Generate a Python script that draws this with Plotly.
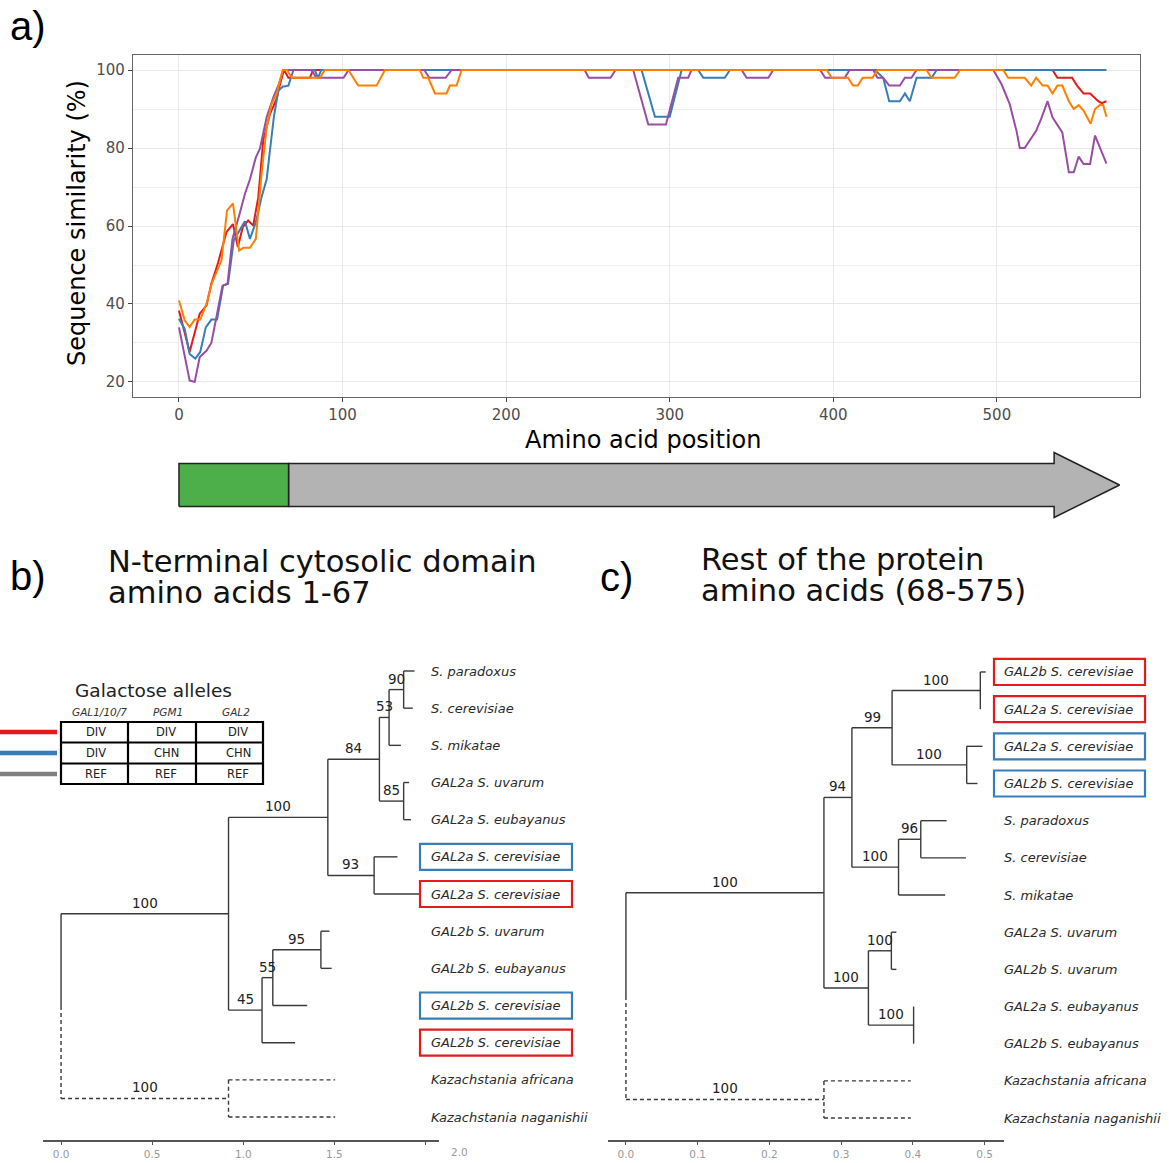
import plotly.graph_objects as go

W, H = 1169, 1163
def px(x): return x / W
def py(y): return 1 - y / H

FONT = "DejaVu Sans"

# ---------------- panel a data ----------------
red_pos = [0,6.5,12.7,16.8,19.8,24,29,33,36,39,42.3,45.4,48.5,51.5,55.6,59.7,61.8,64.2,66.9,80,82,534,537,546,549,553,557,562,564,567]
red_sim = [38.3,27.7,37.5,39.6,45.2,50.7,58.4,60.5,54.6,59.7,61.4,60.1,67.4,81.9,88.7,92.6,96.4,100,98,98,100,100,98,98,96,94,94,92,91.5,92]

blue_pos = [0,3.5,6.5,10,13,16.4,19.8,23.3,27,30,33.5,36.8,40.3,43.4,47,50.5,53.6,55.6,58,60.7,63.4,66.9,70,83,85,87,282.8,291,300,307.3,317.4,320.5,333.7,336.8,425.4,430.5,434.2,440.7,443.8,446.8,450.9,460.1,463.2,567]
blue_sim = [36.2,33.6,27.2,26,27.7,34,36,36,44.7,45.2,56.3,58.8,61.2,56.7,61,67.4,72,79.3,87.9,94.7,95.7,96,100,100,98,100,100,88,88,100,100,98,98,100,100,98,92,92,94,92,98,98,100,100]

orange_pos = [0,3.5,6.5,9.6,13,16.8,20,23.3,26,29.4,33,36.8,39.3,43.4,47,50.5,53.6,56.6,59.7,63.4,66,69,86.2,89.2,103.5,109.6,120.8,125.9,147.3,149.3,152.4,156.5,163.6,165.6,169.7,172.8,396,399,409,412,415,418,424,427,457,460,474.3,477.4,503.9,506.9,517,521,524,528,531,534,537,540,544,547,550,553,557.3,560,563,565,567]
orange_sim = [40.9,35.8,34.1,36,36,40,45.2,48.6,51.2,64,65.8,53.7,54.4,54.4,56.7,73.4,85.3,91.3,93.9,100,100,98,98,100,100,96,96,100,100,98,98,94,94,96,96,100,100,98,98,96,96,98,98,100,100,98,98,100,100,98,98,96,98,96,96,94,96,96,92,90,91,89.6,86.2,90,91,91,88]

purple_pos = [0,3.5,6.5,9.6,12.7,16.8,19.8,23.3,26.6,29.7,32.7,36.8,40.3,43.4,47,49.5,53.6,57.7,61.1,63.8,81,84,100.6,103.7,150,153,163,166.7,248,250.5,263.8,266.9,277.7,286.9,297.7,305.2,311.3,313.3,344,347,360.3,363.3,392,395,407,410,424.4,427,430.5,434.2,440.7,443.8,447.8,450.9,497.8,502.8,507.8,512,514,517,524,527,531,534,540,544,547,550,553,557,560,567]
purple_sim = [34,26.4,20.4,20,26.4,28,30,37.5,44.7,45.2,56.7,62.7,68.2,72,77.6,79.8,87.9,93,96.4,100,100,98,98,100,100,98,98,100,100,98,98,100,100,86,86,98,98,100,100,98,98,100,100,98,98,100,100,98,98,96,96,98,98,100,100,96.4,91.3,84.4,80,80,84.4,87.4,92,87.9,84,73.8,73.8,77.8,75.9,75.9,83.2,76]

series = [
    ("red", red_pos, red_sim, "#E41A1C"),
    ("blue", blue_pos, blue_sim, "#377EB8"),
    ("purple", purple_pos, purple_sim, "#984EA3"),
    ("orange", orange_pos, orange_sim, "#FF7F00"),
]

# protein domains (amino-acid boundaries)
domain_bounds = [0, 67, 575]
arrow_head_start = 535

# ---------------- tree data ----------------
tree_b_leaves = ["S. paradoxus", "S. cerevisiae", "S. mikatae", "GAL2a S. uvarum",
                 "GAL2a S. eubayanus", "GAL2a S. cerevisiae", "GAL2a S. cerevisiae",
                 "GAL2b S. uvarum", "GAL2b S. eubayanus", "GAL2b S. cerevisiae",
                 "GAL2b S. cerevisiae", "Kazachstania africana", "Kazachstania naganishii"]
# (node, parent, branch end x, bootstrap)
tree_b_nodes = [
    ("A", "root", 0.919, 100), ("B", "A", 1.464, 100), ("C", "B", 1.747, 84),
    ("D", "C", 1.80, 53), ("E", "D", 1.88, 90), ("L0", "E", 1.94, None),
    ("L1", "E", 1.93, None), ("L2", "D", 1.865, None), ("F", "C", 1.88, 85),
    ("L3", "F", 1.91, None), ("L4", "F", 1.92, None), ("G", "B", 1.718, 93),
    ("L5", "G", 1.846, None), ("L6", "G", 1.97, None), ("H", "A", 1.103, 45),
    ("I", "H", 1.162, 55), ("J", "I", 1.426, 95), ("L7", "J", 1.473, None),
    ("L8", "J", 1.485, None), ("L9", "I", 1.351, None), ("L10", "H", 1.284, None),
    ("K", "root", 0.919, 100), ("L11", "K", 1.504, None), ("L12", "K", 1.504, None),
]
tree_b_boxes = {5: "#377EB8", 6: "#E41A1C", 9: "#377EB8", 10: "#E41A1C"}

tree_c_leaves = ["GAL2b S. cerevisiae", "GAL2a S. cerevisiae", "GAL2a S. cerevisiae",
                 "GAL2b S. cerevisiae", "S. paradoxus", "S. cerevisiae", "S. mikatae",
                 "GAL2a S. uvarum", "GAL2b S. uvarum", "GAL2a S. eubayanus",
                 "GAL2b S. eubayanus", "Kazachstania africana", "Kazachstania naganishii"]
tree_c_nodes = [
    ("A", "root", 0.276, 100), ("B", "A", 0.315, 94), ("C", "B", 0.371, 99),
    ("D", "C", 0.494, 100), ("L0", "D", 0.5015, None), ("L1", "D", 0.494, None),
    ("E", "C", 0.475, 100), ("L2", "E", 0.497, None), ("L3", "E", 0.490, None),
    ("F", "B", 0.380, 100), ("G", "F", 0.411, 96), ("L4", "G", 0.447, None),
    ("L5", "G", 0.474, None), ("L6", "F", 0.445, None), ("H", "A", 0.338, 100),
    ("I", "H", 0.370, 100), ("L7", "I", 0.377, None), ("L8", "I", 0.377, None),
    ("J", "H", 0.401, 100), ("L9", "J", 0.401, None), ("L10", "J", 0.401, None),
    ("K", "root", 0.276, 100), ("L11", "K", 0.397, None), ("L12", "K", 0.397, None),
]
tree_c_boxes = {0: "#E41A1C", 1: "#E41A1C", 2: "#377EB8", 3: "#377EB8"}
outgroup_nodes = {"K", "L11", "L12"}

# legend table
allele_genes = ["GAL1/10/7", "PGM1", "GAL2"]
allele_rows = [["DIV", "DIV", "DIV"], ["DIV", "CHN", "CHN"], ["REF", "REF", "REF"]]
allele_colors = ["#E41A1C", "#377EB8", "#808080"]

fig = go.Figure()

# ---------------- panel a ----------------
for name, xs, ys, col in series:
    fig.add_trace(go.Scatter(x=xs, y=ys, mode="lines", name=name,
                             line=dict(color=col, width=2), xaxis="x", yaxis="y",
                             showlegend=False, hoverinfo="skip"))

# protein arrow
g0, g1, g2 = domain_bounds
bh, hh = 21.5, 32.5
fig.add_trace(go.Scatter(x=[g1, arrow_head_start, arrow_head_start, g2, arrow_head_start, arrow_head_start, g1, g1],
                         y=[-bh, -bh, -hh, 0, hh, bh, bh, -bh], fill="toself",
                         fillcolor="#B3B3B3", line=dict(color="#222", width=1.5),
                         mode="lines", xaxis="x2", yaxis="y2", showlegend=False, hoverinfo="skip"))
fig.add_trace(go.Scatter(x=[g0, g1, g1, g0, g0], y=[-bh, -bh, bh, bh, -bh], fill="toself",
                         fillcolor="#4DAF4A", line=dict(color="#222", width=1.5),
                         mode="lines", xaxis="x2", yaxis="y2", showlegend=False, hoverinfo="skip"))

annotations = []
shapes = []

def ann(text, x, y, size, xanchor="left", yanchor="middle", color="#111", family=FONT, **kw):
    d = dict(text=text, x=px(x), y=py(y), xref="paper", yref="paper", showarrow=False,
             xanchor=xanchor, yanchor=yanchor, font=dict(size=size, color=color, family=family))
    d.update(kw)
    annotations.append(d)

# ---------------- trees ----------------
def draw_tree(nodes, leaves, xa, ya, boxes, label_x, box_x0, box_x1):
    xpos = {"root": 0.0}
    kids = {}
    for n, p, x, b in nodes:
        xpos[n] = x
        kids.setdefault(p, []).append(n)
    ys = {}
    def y_of(n):
        if n.startswith("L"):
            ys[n] = int(n[1:])
        else:
            v = [y_of(c) for c in kids[n]]
            ys[n] = (min(v) + max(v)) / 2
        return ys[n]
    y_of("root")
    sx, sy, dx, dy = [], [], [], []
    for n, p, x, b in nodes:
        tx, ty = (dx, dy) if n in outgroup_nodes else (sx, sy)
        tx += [xpos[p], x, None]
        ty += [ys[n], ys[n], None]
    for p, cs in kids.items():
        if p == "root":
            yv = [ys[c] for c in cs]
            mid = (min(yv) + max(yv)) / 2
            for c in cs:
                tx, ty = (dx, dy) if c in outgroup_nodes else (sx, sy)
                tx += [0, 0, None]
                ty += [mid, ys[c], None]
        else:
            yv = [ys[c] for c in cs]
            tx, ty = (dx, dy) if p in outgroup_nodes else (sx, sy)
            tx += [xpos[p], xpos[p], None]
            ty += [min(yv), max(yv), None]
    fig.add_trace(go.Scatter(x=sx, y=sy, mode="lines", line=dict(color="#3a3a3a", width=1.4),
                             xaxis=xa, yaxis=ya, showlegend=False, hoverinfo="skip"))
    fig.add_trace(go.Scatter(x=dx, y=dy, mode="lines",
                             line=dict(color="#3a3a3a", width=1.4, dash="4px,3px"),
                             xaxis=xa, yaxis=ya, showlegend=False, hoverinfo="skip"))
    for n, p, x, b in nodes:
        if b is not None:
            annotations.append(dict(text=str(b), x=(xpos[p] + x) / 2, y=ys[n], xref=xa, yref=ya,
                                    showarrow=False, yshift=11, xanchor="center", yanchor="middle",
                                    font=dict(size=13.5, color="#222", family=FONT)))
    for i, name in enumerate(leaves):
        annotations.append(dict(text="<i>" + name + "</i>", x=px(label_x), y=i, xref="paper", yref=ya,
                                showarrow=False, xanchor="left", yanchor="middle",
                                font=dict(size=13, color="#2a2a2a", family=FONT)))
    for i, col in boxes.items():
        shapes.append(dict(type="rect", xref="paper", yref=ya, x0=px(box_x0), x1=px(box_x1),
                           y0=i - 0.35, y1=i + 0.35, line=dict(color=col, width=2.2)))

draw_tree(tree_b_nodes, tree_b_leaves, "x3", "y3", tree_b_boxes, 429, 420, 572)
draw_tree(tree_c_nodes, tree_c_leaves, "x4", "y4", tree_c_boxes, 1002, 994, 1145)

# ---------------- text ----------------
ann("a)", 8, 26, 40, family="Liberation Sans", color="#000")
ann("b)", 8, 576, 40, family="Liberation Sans", color="#000")
ann("c)", 598, 577, 40, family="Liberation Sans", color="#000")
ann("N-terminal cytosolic domain", 106, 561, 30.5)
ann("amino acids 1-67", 106, 592, 30.5)
ann("Rest of the protein", 699, 559, 30.5)
ann("amino acids (68-575)", 699, 590, 30.5)
ann("Amino acid position", 643, 440, 24, xanchor="center", color="#000")
ann("Sequence similarity (%)", 77, 223, 24, xanchor="center", color="#000", textangle=-90)
ann("2.0", 459, 1152, 10.5, xanchor="center", color="#999")

# legend table
ann("Galactose alleles", 153, 690, 18.5, xanchor="center", color="#222")
col_centers = [96, 166, 238]
row_centers = [732, 753, 774]
for g, cx in zip(allele_genes, [99, 168, 236]):
    ann("<i>" + g + "</i>", cx, 712, 10.5, xanchor="center", color="#333")
for r, row in enumerate(allele_rows):
    for c, val in enumerate(row):
        ann(val, col_centers[c], row_centers[r], 11.5, xanchor="center", color="#222")
    shapes.append(dict(type="line", xref="paper", yref="paper", x0=px(0), x1=px(57),
                       y0=py(row_centers[r]), y1=py(row_centers[r]),
                       line=dict(color=allele_colors[r], width=4.5)))
shapes.append(dict(type="rect", xref="paper", yref="paper", x0=px(61), x1=px(263),
                   y0=py(784), y1=py(722), line=dict(color="#000", width=2.2)))
for vx in [128, 196]:
    shapes.append(dict(type="line", xref="paper", yref="paper", x0=px(vx), x1=px(vx),
                       y0=py(784), y1=py(722), line=dict(color="#000", width=2.2)))
for hy in [742.5, 763.5]:
    shapes.append(dict(type="line", xref="paper", yref="paper", x0=px(61), x1=px(263),
                       y0=py(hy), y1=py(hy), line=dict(color="#000", width=2.2)))

tree_xaxis = dict(showline=True, linecolor="#555", linewidth=2, ticks="outside", ticklen=3,
                  tickcolor="#555", showgrid=False, zeroline=False,
                  tickfont=dict(size=10.5, color="#999", family=FONT))

fig.update_layout(
    width=W, height=H, margin=dict(l=0, r=0, t=0, b=0),
    paper_bgcolor="white", plot_bgcolor="white", showlegend=False,
    font=dict(family=FONT),
    xaxis=dict(domain=[px(133), px(1140)], range=[-28.1, 587.5], anchor="y",
               tickvals=[0, 100, 200, 300, 400, 500], showgrid=True, gridcolor="#e8e8e8", gridwidth=1.3,
               zeroline=False, showline=True, mirror=True, linecolor="#666", linewidth=1.3,
               ticks="outside", ticklen=4, tickcolor="#444", tickwidth=1.2,
               tickfont=dict(size=15, color="#4d4d4d", family=FONT)),
    yaxis=dict(domain=[py(397), py(55)], range=[16.15, 103.85], anchor="x",
               tickvals=[20, 40, 60, 80, 100], showgrid=True, gridcolor="#e8e8e8", gridwidth=1.3,
               minor=dict(dtick=10, tick0=0, showgrid=True, gridcolor="#efefef", gridwidth=1),
               zeroline=False, showline=True, mirror=True, linecolor="#666", linewidth=1.3,
               ticks="outside", ticklen=4, tickcolor="#444", tickwidth=1.2,
               tickfont=dict(size=15, color="#4d4d4d", family=FONT)),
    xaxis2=dict(domain=[px(133), px(1140)], range=[-28.1, 587.5], anchor="y2", visible=False),
    yaxis2=dict(domain=[py(525), py(445)], range=[-40, 40], anchor="x2", visible=False),
    xaxis3=dict(domain=[px(43), px(439)], range=[-0.099, 2.074], anchor="y3",
                tickvals=[0, 0.5, 1, 1.5, 2], ticktext=["0.0", "0.5", "1.0", "1.5", ""], **tree_xaxis),
    yaxis3=dict(domain=[py(1140), py(640)], range=[12.618, -0.834], anchor="x3", visible=False),
    xaxis4=dict(domain=[px(608), px(1004)], range=[-0.025, 0.527], anchor="y4",
                tickvals=[0, 0.1, 0.2, 0.3, 0.4, 0.5],
                ticktext=["0.0", "0.1", "0.2", "0.3", "0.4", "0.5"], **tree_xaxis),
    yaxis4=dict(domain=[py(1140), py(640)], range=[12.59, -0.86], anchor="x4", visible=False),
    annotations=annotations, shapes=shapes,
)

fig.write_html("out.html")
